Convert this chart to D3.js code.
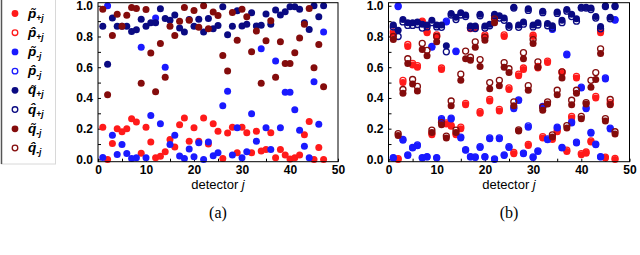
<!DOCTYPE html>
<html>
<head>
<meta charset="utf-8">
<script src="https://cdn.jsdelivr.net/npm/d3@7"></script>
<style>
body { margin: 0; background: #fff; }
text { font-family: "Liberation Sans", Arial, sans-serif; }
</style>
</head>
<body>
<svg id="fig" width="640" height="255"></svg>
<script>
// detector index j = 1..47
var detectors = d3.range(1, 48);
var xTickLabels = [0, 10, 20, 30, 40, 50];
var yTickLabels = [0.0, 0.2, 0.4, 0.6, 0.8, 1.0];

// legend
var legendBase = ["p", "p", "p", "p", "q", "q", "q", "q"];
var legendAccent = ["\u0303", "\u0302", "\u0303", "\u0302", "\u0303", "\u0302", "\u0303", "\u0302"];
var legendSub = ["+j", "+j", "-j", "-j", "+j", "+j", "-j", "-j"];

// (a) values
var aRed  = [0.21,0.00,0.103,0.20,0.18,0.20,0.265,0.243,0.04,0.21, 0.114,0.01,0.02,0.05,0.13,0.08,0.226,0.27,0.118,0.206,
             0.118,0.27,0.10,0.232,0.183,0.006,0.172,0.21,0.043,0.21, 0.174,0.043,0.183,0.054,0.065,0.174,0.01,0.065,0.028,0.002,
             0.01,0.028,0.161,0.247,0.0,0.077,0.0];
var aBlue = [0.013,1.0,0.157,0.032,0.097,0.039,0.006,0.01,0.73,0.01, 0.286,0.92,0.232,0.60,0.097,0.157,0.022,0.006,0.067,0.017,
             0.108,0.0,0.114,0.024,0.043,0.35,0.443,0.028,0.206,0.01, 0.05,0.297,0.118,0.72,0.206,0.065,0.64,0.206,0.437,0.437,
             0.323,0.19,0.086,0.01,0.505,0.228,0.83];
var aNavy = [0.866,0.62,0.92,0.866,0.866,0.866,0.833,0.844,0.912,0.866, 0.89,0.89,0.98,0.917,0.905,0.94,0.855,0.83,0.91,0.866,
             0.912,0.83,0.917,0.85,0.872,0.993,0.812,0.867,0.967,0.868, 0.88,0.955,0.868,0.874,0.946,0.88,0.972,0.94,0.961,0.994,
             0.994,0.978,0.89,0.846,1.0,0.928,1.0];
var aDark = [0.978,0.42,0.807,0.945,0.866,0.938,0.989,0.982,0.495,0.976, 0.692,0.44,0.755,0.535,0.866,0.807,0.90,0.989,0.905,0.97,
             0.86,1.0,0.85,0.96,0.937,0.677,0.576,0.956,0.776,0.977, 0.928,0.70,0.835,0.495,0.772,0.903,0.534,0.766,0.625,0.625,
             0.694,0.79,0.88,0.983,0.596,0.748,0.473];

// (b) values
var bRed      = [0.82,0.0,0.50,0.735,0.615,0.60,0.895,0.825,0.16,0.80, 0.585,0.23,0.215,0.16,0.20,0.355,0.85,0.855,0.30,0.80,
                 0.38,0.925,0.315,0.80,0.455,0.037,0.545,0.585,0.09,0.80, 0.595,0.14,0.63,0.13,0.18,0.56,0.052,0.27,0.53,0.03,
                 0.04,0.113,0.40,0.825,0.009,0.36,0.0];
var bRedHat   = [0.83,0.005,0.515,0.748,0.625,0.61,0.90,0.832,0.168,0.81, 0.595,0.238,0.222,0.168,0.21,0.365,0.858,0.862,0.31,0.81,
                 0.39,0.935,0.325,0.81,0.465,0.045,0.555,0.595,0.098,0.808, 0.605,0.148,0.64,0.138,0.19,0.57,0.06,0.28,0.54,0.038,
                 0.048,0.12,0.41,0.835,0.015,0.37,0.006];
var bBlue     = [0.009,1.0,0.124,0.026,0.074,0.089,0.009,0.015,0.73,0.009, 0.259,0.895,0.263,0.70,0.139,0.059,0.015,0.013,0.078,0.015,
                 0.135,0.0,0.135,0.026,0.078,0.33,0.383,0.037,0.209,0.013, 0.052,0.34,0.128,0.845,0.204,0.074,0.68,0.237,0.107,0.465,
                 0.33,0.17,0.096,0.015,0.524,0.198,0.906];
var bBlueHat  = [0.012,0.995,0.13,0.03,0.078,0.094,0.012,0.018,0.735,0.012, 0.265,0.9,0.268,0.705,0.145,0.063,0.018,0.016,0.083,0.018,
                 0.14,0.004,0.14,0.03,0.083,0.338,0.388,0.041,0.218,0.016, 0.056,0.345,0.133,0.85,0.21,0.078,0.685,0.243,0.112,0.47,
                 0.335,0.176,0.1,0.018,0.53,0.204,0.91];
var bNavy     = [0.875,0.84,0.91,0.89,0.89,0.895,0.88,0.875,0.905,0.875, 0.875,0.74,0.95,0.925,0.955,0.94,0.868,0.868,0.945,0.868,
                 0.88,0.945,0.935,0.92,0.872,0.99,0.875,0.895,0.98,0.875, 0.89,0.965,0.885,0.87,0.96,0.905,0.975,0.945,0.915,0.99,
                 0.99,0.985,0.93,0.865,1.0,0.925,1.0];
var bNavyHat  = [0.862,0.80,0.895,0.872,0.872,0.878,0.855,0.862,0.89,0.862, 0.86,0.70,0.94,0.91,0.94,0.93,0.855,0.852,0.935,0.855,
                 0.87,0.935,0.92,0.905,0.86,0.985,0.86,0.88,0.97,0.862, 0.875,0.955,0.87,0.855,0.95,0.89,0.965,0.93,0.9,0.985,
                 0.985,0.975,0.92,0.85,0.995,0.915,0.995];
var bDark     = [0.78,0.155,0.43,0.625,0.49,0.445,0.715,0.675,0.175,0.765, 0.225,0.14,0.35,0.175,0.515,0.655,0.645,0.73,0.605,0.775,
                 0.46,0.89,0.48,0.60,0.565,0.35,0.185,0.655,0.45,0.755, 0.60,0.32,0.36,0.145,0.42,0.53,0.205,0.355,0.43,0.265,
                 0.36,0.47,0.52,0.69,0.25,0.355,0.165];
var bDarkHat  = [0.80,0.168,0.455,0.655,0.52,0.475,0.755,0.71,0.19,0.80, 0.24,0.152,0.38,0.19,0.555,0.705,0.665,0.765,0.65,0.795,
                 0.50,0.915,0.515,0.63,0.59,0.375,0.192,0.695,0.48,0.78, 0.635,0.34,0.375,0.16,0.45,0.57,0.22,0.385,0.45,0.28,
                 0.37,0.515,0.565,0.72,0.265,0.39,0.18];

var colRed = "#ff1a1a", colBlue = "#1a1aff", colNavy = "#0a0a82", colDark = "#840c0c";
var legendColor = [colRed, colRed, colBlue, colBlue, colNavy, colNavy, colDark, colDark];
var legendFilled = [true, false, true, false, true, false, true, false];

var svg = d3.select("#fig");

// legend box
var lg = svg.append("g");
lg.append("rect").attr("x", 1.5).attr("y", -2).attr("width", 54).attr("height", 166)
    .attr("fill", "#fff").attr("stroke", "#d8d8d8");
lg.append("line").attr("x1", 1.5).attr("x2", 1.5).attr("y1", 0).attr("y2", 164)
    .attr("stroke", "#555").attr("stroke-width", 1.5);
var ly = d3.scaleLinear().domain([0, 7]).range([13.5, 148]);
legendBase.forEach(function(b, i){
    var cy = ly(i);
    lg.append("circle").attr("cx", 15).attr("cy", cy)
        .attr("r", legendFilled[i] ? 3.4 : 2.8)
        .attr("fill", legendFilled[i] ? legendColor[i] : "none")
        .attr("stroke", legendColor[i]).attr("stroke-width", legendFilled[i] ? 0 : 1.3);
    var t = lg.append("text").attr("x", 28).attr("y", cy + 4)
        .style("font-weight", "bold").style("font-style", "italic").style("font-size", "13.5px");
    t.append("tspan").text(b + legendAccent[i]);
    t.append("tspan").attr("dy", 3).style("font-size", "8.5px").text(legendSub[i]);
});

// panels
function drawPanel(x0, x1, series, title, tag){
    var x = d3.scaleLinear().domain([0, 50]).range([x0, x1]);
    var y = d3.scaleLinear().domain([-0.015, 1.02]).range([161.7, 2.7]);
    var g = svg.append("g");

    var gx = g.append("g").attr("transform", "translate(0," + y.range()[0] + ")")
        .call(d3.axisBottom(x).tickValues(d3.range(0, 51, 5)).tickSize(-3).tickPadding(3.5)
            .tickFormat(function(d){ return xTickLabels.indexOf(d) >= 0 ? d : ""; }));
    var gy = g.append("g").attr("transform", "translate(" + x0 + ",0)")
        .call(d3.axisLeft(y).tickValues(d3.range(0, 11).map(function(k){ return k / 10; })).tickSize(-3).tickPadding(5)
            .tickFormat(function(d){
                return yTickLabels.some(function(v){ return Math.abs(v - d) < 1e-9; }) ? d3.format(".1f")(d) : "";
            }));
    [gx, gy].forEach(function(a){
        a.select(".domain").remove();
        a.selectAll("text").filter(function(){ return this.textContent === ""; }).remove();
        a.selectAll("text").style("font-weight", "bold").style("font-size", "12px")
            .style("font-family", "'Liberation Sans', Arial, sans-serif").attr("fill", "#000");
        a.selectAll("line").attr("stroke", "#000");
    });

    // points
    series.forEach(function(s){
        g.append("g").selectAll("circle").data(s.values).enter().append("circle")
            .attr("cx", function(d, i){ return x(detectors[i]); })
            .attr("cy", function(d){ return y(d); })
            .attr("r", s.filled ? 3.5 : 3.0)
            .attr("fill", s.filled ? s.color : "none")
            .attr("stroke", s.filled ? "none" : s.color)
            .attr("stroke-width", 1.3);
    });

    // frame
    g.append("rect").attr("x", x0).attr("y", y.range()[1])
        .attr("width", x1 - x0).attr("height", y.range()[0] - y.range()[1])
        .attr("fill", "none").attr("stroke", "#000").attr("stroke-width", 1);

    var cx = (x0 + x1) / 2;
    var tt = g.append("text").attr("x", cx).attr("y", 189).attr("text-anchor", "middle")
        .style("font-size", "13px");
    tt.append("tspan").text(title + " ");
    tt.append("tspan").style("font-style", "italic").text("j");

    g.append("text").attr("x", cx).attr("y", 218).attr("text-anchor", "middle")
        .style("font-family", "'Liberation Serif', 'Times New Roman', serif").style("font-size", "16px")
        .text(tag);
}

drawPanel(98, 338, [
    { values: aRed,  color: colRed,  filled: true },
    { values: aBlue, color: colBlue, filled: true },
    { values: aNavy, color: colNavy, filled: true },
    { values: aDark, color: colDark, filled: true }
], "detector", "(a)");

drawPanel(388.5, 629.5, [
    { values: bRed,     color: colRed,  filled: true },
    { values: bRedHat,  color: colRed,  filled: false },
    { values: bBlue,    color: colBlue, filled: true },
    { values: bBlueHat, color: colBlue, filled: false },
    { values: bNavy,    color: colNavy, filled: true },
    { values: bNavyHat, color: colNavy, filled: false },
    { values: bDark,    color: colDark, filled: true },
    { values: bDarkHat, color: colDark, filled: false }
], "detector", "(b)");
</script>
</body>
</html>
